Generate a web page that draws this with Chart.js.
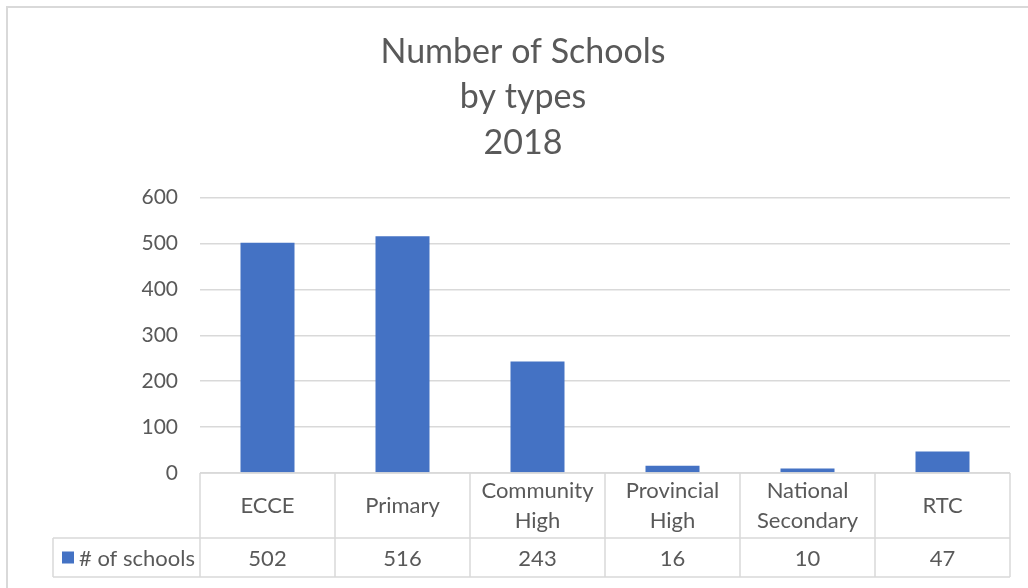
<!DOCTYPE html>
<html>
<head>
<meta charset="utf-8">
<script src="https://cdn.jsdelivr.net/npm/chart.js@4"></script>
<style>
  body { margin: 0; background: #ffffff; }
  #wrap { width: 1028px; height: 588px; position: relative; }
</style>
</head>
<body>
<div id="wrap"><canvas id="myChart" width="1028" height="588"></canvas></div>
<script>

// data
var categories = [['ECCE'], ['Primary'], ['Community', 'High'], ['Provincial', 'High'], ['National', 'Secondary'], ['RTC']];
var seriesName = '# of schools';
var schools = [502, 516, 243, 16, 10, 47];
var titleLines = ['Number of Schools', 'by types', '2018'];

var textColor = '#595959';
var lineColor = '#d9d9d9';
var barColor = '#4472c4';
var fontName = 'Lato';

// excel style data table under the axis + outer frame
var tablePlugin = {
  id: 'dataTable',
  afterDraw: function(chart) {
    var ctx = chart.ctx;
    var area = chart.chartArea;
    var xs = chart.scales.x;
    var colW = (area.right - area.left) / categories.length;
    var top = area.bottom;
    var mid = top + 65;
    var bottom = top + 104;
    var leftCol = 53;

    ctx.save();
    ctx.strokeStyle = lineColor;
    ctx.lineWidth = 2;
    ctx.strokeRect(7, 7, 1200, 1200);

    ctx.lineWidth = 1.5;
    ctx.beginPath();
    ctx.moveTo(area.left, top); ctx.lineTo(area.right, top);
    ctx.moveTo(leftCol, mid); ctx.lineTo(area.right, mid);
    ctx.moveTo(leftCol, bottom); ctx.lineTo(area.right, bottom);
    ctx.moveTo(leftCol, mid); ctx.lineTo(leftCol, bottom);
    for (let i = 0; i <= categories.length; i++) {
      let x = area.left + i * colW;
      ctx.moveTo(x, top); ctx.lineTo(x, bottom);
    }
    ctx.stroke();

    ctx.fillStyle = textColor;
    ctx.font = '22px ' + fontName;
    ctx.textAlign = 'center';
    ctx.textBaseline = 'middle';
    for (let i = 0; i < categories.length; i++) {
      let cx = xs.getPixelForValue(i);
      let lines = categories[i];
      let cy = (top + mid) / 2 - (lines.length - 1) * 15;
      for (let j = 0; j < lines.length; j++) {
        ctx.fillText(lines[j], cx, cy + j * 30);
      }
      ctx.fillText(String(schools[i]), cx, (mid + bottom) / 2 + 1);
    }

    // legend key in the first column
    ctx.fillStyle = barColor;
    ctx.fillRect(62, (mid + bottom) / 2 - 6, 12, 12);
    ctx.fillStyle = textColor;
    ctx.textAlign = 'left';
    ctx.fillText(seriesName, 79, (mid + bottom) / 2 + 1);
    ctx.restore();
  }
};

var ctx = document.getElementById('myChart').getContext('2d');

new Chart(ctx, {
  type: 'bar',
  data: {
    labels: categories.map(function(c) { return c.join(' '); }),
    datasets: [{
      label: seriesName,
      data: schools,
      backgroundColor: barColor,
      barPercentage: 0.4,
      categoryPercentage: 1.0
    }]
  },
  options: {
    responsive: false,
    animation: false,
    layout: { padding: { left: 36, right: 18, top: 0, bottom: 115 } },
    plugins: {
      legend: { display: false },
      tooltip: { enabled: false },
      title: {
        display: true,
        text: titleLines,
        color: textColor,
        font: { family: fontName, size: 34, weight: 'normal', lineHeight: 1.34 },
        padding: { top: 29, bottom: 32 }
      }
    },
    scales: {
      x: { display: false },
      y: {
        min: 0,
        max: 600,
        ticks: { stepSize: 100, color: textColor, padding: 22, font: { family: fontName, size: 21 } },
        grid: { color: lineColor, lineWidth: 1.5, drawTicks: false },
        border: { display: false },
        afterFit: function(scale) { scale.width = 164; }
      }
    }
  },
  plugins: [tablePlugin]
});

</script>
</body>
</html>
